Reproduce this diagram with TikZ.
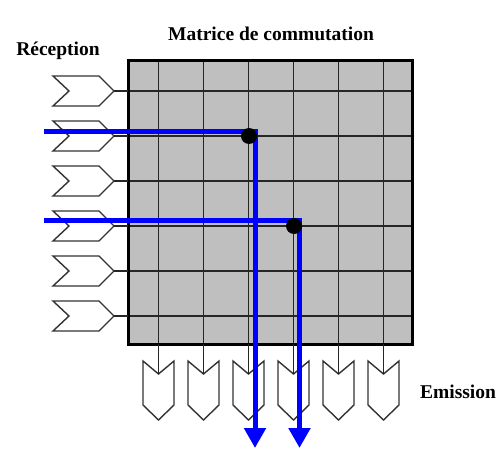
\documentclass[tikz,border=0pt]{standalone}
\usepackage{fontspec}
\setmainfont{Liberation Serif}
\usetikzlibrary{arrows.meta}

\begin{document}
\begin{tikzpicture}[x=1pt,y=-1pt,
  chevron/.style={draw=black!80, line width=1.4pt, fill=white, line join=miter},
  wire/.style={draw=black!85, line width=1.1pt},
  route/.style={draw=blue, line width=5pt, -{Triangle[width=21pt,length=20pt]}},
  switch/.style={circle, fill=black, minimum size=16pt, inner sep=0pt},
  title/.style={font=\fontsize{19.5}{22}\selectfont\bfseries, anchor=base}]
\def\cell{45}
\useasboundingbox (0,0) rectangle (502,462);

% matrice
\fill[black!25] (128,61) rectangle (412,344);
\foreach \k in {0,...,5} {
  \draw[wire] (114,{91+\k*\cell}) -- (412,{91+\k*\cell});
  \draw[wire] ({158.5+\k*\cell},61) -- ({158.5+\k*\cell},374);
}
\draw[line width=3pt] (128,61) rectangle (412,344);

% entrees et sorties
\foreach \k in {0,...,5} {
  \def\y{91+\k*\cell}
  \draw[chevron] (53,{\y-15}) -- (99,{\y-15}) -- (114,{\y}) -- (99,{\y+15}) -- (53,{\y+15}) -- (69,{\y}) -- cycle;
  \def\x{158.5+\k*\cell}
  \draw[chevron] ({\x-15.5},361) -- ({\x},374) -- ({\x+15.5},361) -- ({\x+15.5},405) -- ({\x},420) -- ({\x-15.5},405) -- cycle;
}
\foreach \k in {0,...,5} {
  \draw[wire] ({158.5+\k*\cell},344) -- ({158.5+\k*\cell},374);
  \draw[wire] (114,{91+\k*\cell}) -- (128,{91+\k*\cell});
}

% chemins commutes
\coordinate (in2) at (44,131.5);
\coordinate (out3) at (255,448);
\coordinate (in4) at (44,220.5);
\coordinate (out4) at (299.5,448);
\draw[route] (in2) -| (out3);
\draw[route] (in4) -| (out4);
\node[switch] (sw1) at (249,136) {};
\node[switch] (sw2) at (294,226) {};

\node[title] (rec) at (58,56) {Réception};
\node[title] (mat) at (271,41) {Matrice de commutation};
\node[title] (emi) at (458,398) {Emission};
\end{tikzpicture}
\end{document}
